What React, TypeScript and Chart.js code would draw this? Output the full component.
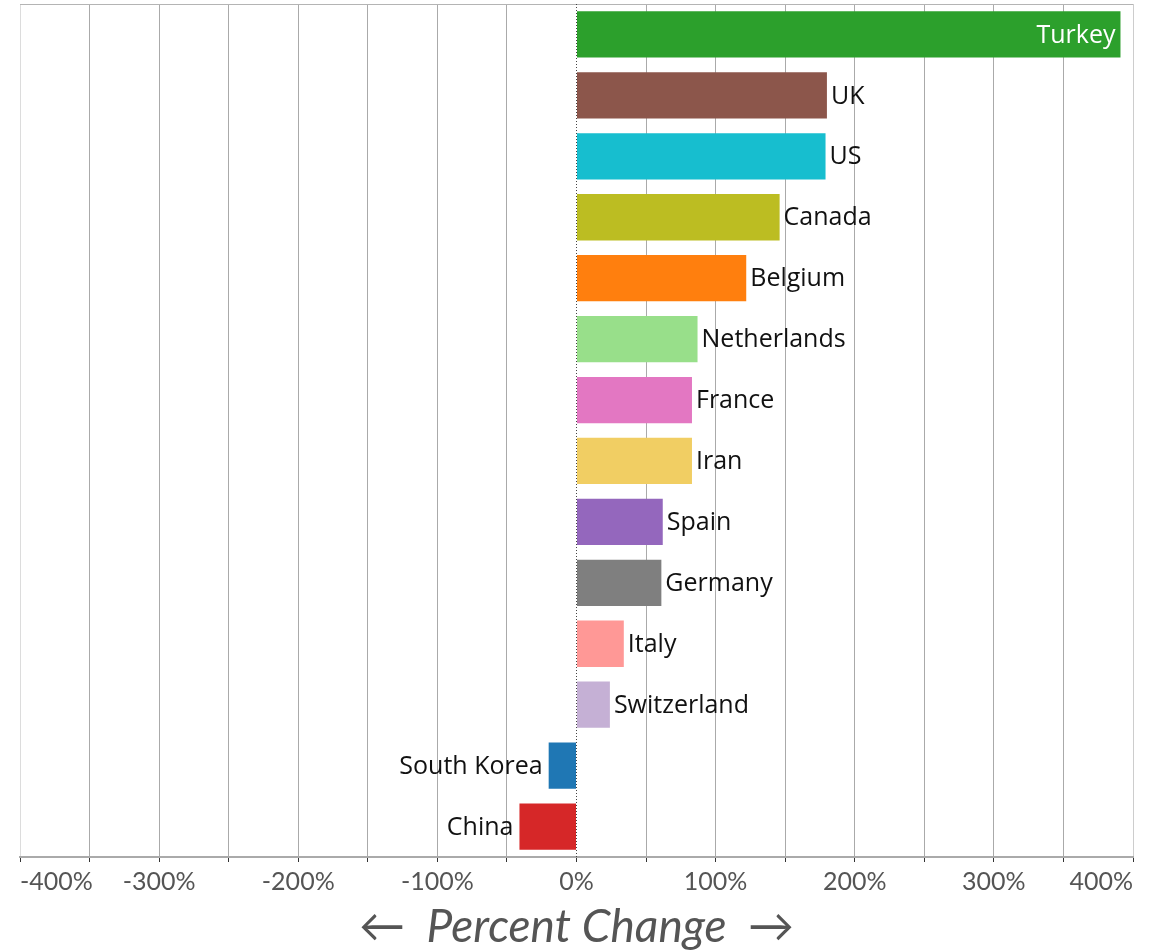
import React, { useEffect, useRef } from 'react';
import { Chart, registerables } from 'chart.js';

Chart.register(...registerables);

const countries = ['Turkey', 'UK', 'US', 'Canada', 'Belgium', 'Netherlands', 'France', 'Iran', 'Spain', 'Germany', 'Italy', 'Switzerland', 'South Korea', 'China'];
const percentChange = [391, 180, 179, 146, 122, 87, 83, 83, 62, 61, 34, 24, -20, -41];
const barColors = ['#2ca02c', '#8c564b', '#17becf', '#bcbd22', '#ff7f0e', '#98df8a', '#e377c2', '#f1ce63', '#9467bd', '#7f7f7f', '#ff9896', '#c5b0d5', '#1f77b4', '#d62728'];
const axisMin = -400;
const axisMax = 400;
const gridStep = 50;
const labelStep = 100;
const axisTitle = '←  Percent Change  →';

const labelFont = '25px "Open Sans", sans-serif';

const decorPlugin = {
  id: 'decor',
  beforeDatasetsDraw(chart: any) {
    const { ctx, chartArea, scales } = chart;
    const x0 = scales.x.getPixelForValue(0);
    ctx.save();
    ctx.strokeStyle = '#b4b4b4';
    ctx.lineWidth = 1;
    ctx.beginPath();
    ctx.moveTo(chartArea.left, Math.round(chartArea.top) + 0.5);
    ctx.lineTo(chartArea.right, Math.round(chartArea.top) + 0.5);
    ctx.stroke();
    ctx.strokeStyle = '#444';
    ctx.setLineDash([1, 2]);
    ctx.beginPath();
    ctx.moveTo(Math.round(x0) - 0.5, chartArea.top);
    ctx.lineTo(Math.round(x0) - 0.5, chartArea.bottom);
    ctx.stroke();
    ctx.restore();
  },
  afterDatasetsDraw(chart: any) {
    const { ctx } = chart;
    const meta = chart.getDatasetMeta(0);
    const data = chart.data.datasets[0].data as number[];
    const maxVal = Math.max(...data);
    ctx.save();
    ctx.font = labelFont;
    ctx.textBaseline = 'middle';
    meta.data.forEach((bar: any, i: number) => {
      const v = data[i];
      const label = chart.data.labels[i];
      if (v === maxVal) {
        ctx.fillStyle = '#ffffff';
        ctx.textAlign = 'right';
        ctx.fillText(label, bar.x - 5, bar.y + 1);
      } else if (v >= 0) {
        ctx.fillStyle = '#111';
        ctx.textAlign = 'left';
        ctx.fillText(label, bar.x + 4, bar.y + 1);
      } else {
        ctx.fillStyle = '#111';
        ctx.textAlign = 'right';
        ctx.fillText(label, bar.x - 6, bar.y + 1);
      }
    });
    ctx.restore();
  },
};

export default function App() {
  const canvasRef = useRef<HTMLCanvasElement | null>(null);

  useEffect(() => {
    if (!canvasRef.current) return;
    const chart = new Chart(canvasRef.current, {
      type: 'bar',
      data: {
        labels: countries,
        datasets: [
          {
            data: percentChange,
            backgroundColor: barColors,
            borderWidth: 0,
            barPercentage: 0.76,
            categoryPercentage: 1,
          },
        ],
      },
      options: {
        indexAxis: 'y',
        responsive: false,
        animation: false,
        devicePixelRatio: 1,
        layout: { padding: { left: 20, right: 24, top: 4, bottom: 0 } },
        plugins: {
          legend: { display: false },
          tooltip: { enabled: false },
        },
        scales: {
          y: {
            display: false,
          },
          x: {
            min: axisMin,
            max: axisMax,
            border: { display: true, color: '#aaaaaa', width: 2 },
            grid: {
              color: (c: any) => {
                const v = c.tick ? c.tick.value : null;
                if (v === 0) return 'rgba(0,0,0,0)';
                if (v === axisMin) return '#dcdcdc';
                if (v === axisMax) return '#cdcdcd';
                return '#aaaaaa';
              },
              lineWidth: 1,
              tickColor: '#333333',
              tickLength: 5,
              drawTicks: true,
            },
            ticks: {
              stepSize: gridStep,
              autoSkip: false,
              maxRotation: 0,
              align: 'inner',
              padding: 5,
              color: '#555555',
              font: { family: 'Lato, sans-serif', size: 25 },
              callback: (v: any) => (Number(v) % labelStep === 0 ? `${v}%` : ''),
            },
            title: {
              display: true,
              text: axisTitle,
              color: '#555555',
              font: { family: 'Lato, "DejaVu Sans", sans-serif', size: 46, style: 'italic', weight: 'normal', lineHeight: 1.0 },
              padding: { top: 2, bottom: 0 },
            },
          },
        },
      },
      plugins: [decorPlugin],
    });
    return () => chart.destroy();
  }, []);

  return (
    <div style={{ position: 'absolute', left: 0, top: 0, width: 1157, height: 950, background: '#fff' }}>
      <canvas ref={canvasRef} width={1157} height={950} />
    </div>
  );
}
